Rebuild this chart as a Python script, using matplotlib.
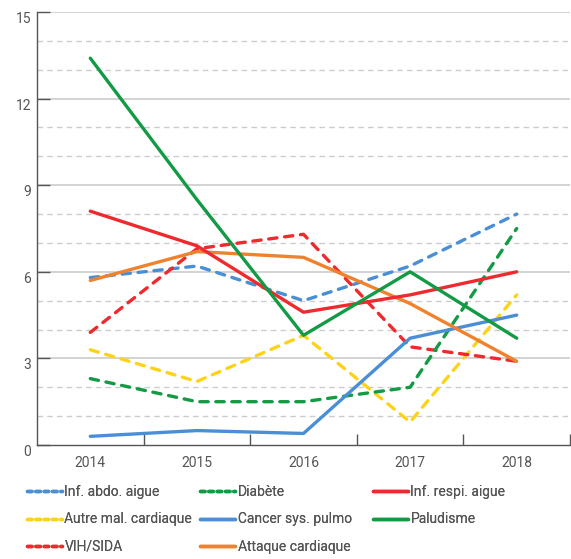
import matplotlib
matplotlib.use("Agg")
import matplotlib.pyplot as plt
from matplotlib.lines import Line2D

plt.rcParams['font.family'] = ['Roboto', 'DejaVu Sans']

years = ["2014", "2015", "2016", "2017", "2018"]
inf_abdo = [5.8, 6.2, 5.0, 6.2, 8.0]
diabete = [2.3, 1.5, 1.5, 2.0, 7.5]
inf_respi = [8.1, 6.9, 4.6, 5.2, 6.0]
autre_card = [3.3, 2.2, 3.8, 0.8, 5.2]
cancer = [0.3, 0.5, 0.4, 3.7, 4.5]
paludisme = [13.4, 8.5, 3.8, 6.0, 3.7]
vih = [3.9, 6.8, 7.3, 3.4, 2.9]
attaque = [5.7, 6.7, 6.5, 4.9, 2.9]

BLUE = "#4a8fd6"
GREEN = "#139a45"
RED = "#ee2a2e"
YELLOW = "#fdd31a"
ORANGE = "#f0822e"

series = [
    ("Inf. abdo. aigue", inf_abdo, BLUE, True),
    ("Autre mal. cardiaque", autre_card, YELLOW, True),
    ("VIH/SIDA", vih, RED, True),
    ("Diabète", diabete, GREEN, True),
    ("Cancer sys. pulmo", cancer, BLUE, False),
    ("Attaque cardiaque", attaque, ORANGE, False),
    ("Inf. respi. aigue", inf_respi, RED, False),
    ("Paludisme", paludisme, GREEN, False),
]

fig = plt.figure(figsize=(5.71, 5.59), dpi=100)
ax = fig.add_axes([37/571, 1-445/559, (570-37)/571, (445-12)/559])

x = list(range(len(years)))
for name, vals, col, dashed in series:
    if dashed:
        ax.plot(x, vals, color=col, lw=2.4, linestyle=(0, (2.5, 2.3)),
                dash_capstyle='round', solid_capstyle='round', zorder=3)
    else:
        ax.plot(x, vals, color=col, lw=2.4, solid_capstyle='round', zorder=3)

ax.set_xlim(-0.5, 4.5)
ax.set_ylim(0, 15)

# grid
for v in range(1, 16):
    if v % 3 == 0:
        ax.axhline(v, color="#cccccc", lw=1.2, zorder=1)
    else:
        ax.axhline(v, color="#cccccc", lw=1.0, linestyle=(0, (4, 3)), zorder=1)

ax.set_yticks([0, 3, 6, 9, 12, 15])
ax.set_xticks(x)
ax.set_xticklabels(years)
ax.set_xticks([0.5, 1.5, 2.5, 3.5, 4.5], minor=True)
ax.tick_params(axis='x', which='major', length=0, pad=8, labelsize=10, labelcolor="#555555")
ax.tick_params(axis='x', which='minor', direction='in', length=8, width=1, color="#555555")
ax.tick_params(axis='y', which='major', direction='in', length=9, width=1, color="#555555",
               pad=-2, labelsize=10, labelcolor="#555555")
for lab in ax.get_yticklabels():
    lab.set_va('top')
    lab.set_ha('right')
    lab.set_x(-0.016)

for s in ['top', 'right']:
    ax.spines[s].set_visible(False)
for s in ['left', 'bottom']:
    ax.spines[s].set_color("#555555")
    ax.spines[s].set_linewidth(1.0)

handles = []
for name, vals, col, dashed in series:
    if dashed:
        h = Line2D([], [], color=col, lw=2.5, linestyle=(0, (1.3, 1.1)), dash_capstyle='round')
    else:
        h = Line2D([], [], color=col, lw=2.5, solid_capstyle='round')
    handles.append(h)
labels = [s[0] for s in series]

col_x = [27, 200, 373]
groups = [(0, 3), (3, 6), (6, 8)]
for cx, (a, b) in zip(col_x, groups):
    leg = fig.legend(handles[a:b], labels[a:b], ncol=1, loc='upper left',
                     bbox_to_anchor=(cx/571, 1-485/559), frameon=False,
                     fontsize=10, handlelength=2.5, handletextpad=0.2,
                     labelspacing=0.97, borderaxespad=0, borderpad=0)
    for t in leg.get_texts():
        t.set_color("#555555")
    fig.add_artist(leg)

fig.savefig("out.png", dpi=100)
